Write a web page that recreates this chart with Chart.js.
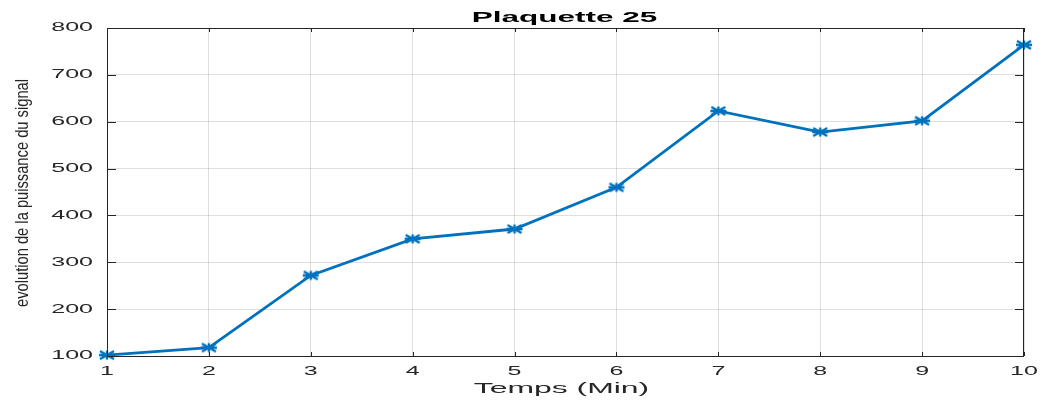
<!DOCTYPE html>
<html>
<head>
<meta charset="utf-8">
<script src="https://cdn.jsdelivr.net/npm/chart.js@4/dist/chart.umd.min.js"></script>
<style>
  html, body { margin: 0; padding: 0; background: #fff; }
  #wrap { width: 1043px; height: 403px; }
</style>
</head>
<body>
<div id="wrap"><canvas id="myChart" width="1043" height="403"></canvas></div>
<script>
// data
const temps = [1, 2, 3, 4, 5, 6, 7, 8, 9, 10];
const puissance = [102, 118, 272, 350, 371, 460, 623, 578, 602, 764];
const yTicks = [100, 200, 300, 400, 500, 600, 700, 800];
const xTicks = [1, 2, 3, 4, 5, 6, 7, 8, 9, 10];

const titleText = 'Plaquette 25';
const xTitle = 'Temps (Min)';
const yTitle = 'evolution de la puissance du signal';

const axisColor = '#262626';
const lineColor = '#0072BD';

let points = [];
for (let i = 0; i < temps.length; i++) {
    points.push({ x: temps[i], y: puissance[i] });
}

// asterisk marker, stretched sideways like the rest of the figure
const marker = document.createElement('canvas');
marker.width = 20;
marker.height = 12;
(function () {
    const c = marker.getContext('2d');
    c.strokeStyle = lineColor;
    c.lineWidth = 2.4;
    c.beginPath();
    c.moveTo(2, 6); c.lineTo(18, 6);
    c.moveTo(3, 2); c.lineTo(17, 10);
    c.moveTo(3, 10); c.lineTo(17, 2);
    c.moveTo(10, 1.5); c.lineTo(10, 10.5);
    c.stroke();
})();

// stretched text, like the exported matlab figure
function wideText(ctx, text, x, y, font, sx, align) {
    ctx.save();
    ctx.font = font;
    ctx.textBaseline = 'middle';
    ctx.textAlign = align;
    ctx.translate(x, y);
    ctx.scale(sx, 1);
    ctx.fillText(text, 0, 0);
    ctx.restore();
}

const matlabBox = {
    id: 'matlabBox',
    afterDraw(chart) {
        const ctx = chart.ctx;
        const area = chart.chartArea;
        const xs = chart.scales.x;
        const ys = chart.scales.y;
        ctx.save();
        ctx.strokeStyle = axisColor;
        ctx.lineWidth = 1;
        ctx.strokeRect(area.left + 0.5, area.top + 0.5, area.right - area.left - 1, area.bottom - area.top);

        // inward ticks
        ctx.beginPath();
        xs.ticks.forEach(t => {
            const px = Math.round(xs.getPixelForValue(t.value)) + 0.5;
            ctx.moveTo(px, area.bottom); ctx.lineTo(px, area.bottom - 4);
            ctx.moveTo(px, area.top); ctx.lineTo(px, area.top + 4);
        });
        ys.ticks.forEach(t => {
            const py = Math.round(ys.getPixelForValue(t.value)) + 0.5;
            ctx.moveTo(area.left, py); ctx.lineTo(area.left + 9, py);
            ctx.moveTo(area.right, py); ctx.lineTo(area.right - 9, py);
        });
        ctx.stroke();

        ctx.fillStyle = axisColor;
        xs.ticks.forEach(t => {
            wideText(ctx, String(t.value), xs.getPixelForValue(t.value), 372,
                '12.5px "Liberation Sans", Arial, sans-serif', 2.0, 'center');
        });
        ys.ticks.forEach(t => {
            wideText(ctx, String(t.value), area.left - 14, ys.getPixelForValue(t.value),
                '12.5px "Liberation Sans", Arial, sans-serif', 2.0, 'right');
        });

        const cx = (area.left + area.right) / 2;
        ctx.fillStyle = '#000';
        wideText(ctx, titleText, cx - 1, 17.5, 'bold 15px "Liberation Sans", Arial, sans-serif', 2.1, 'center');
        ctx.fillStyle = axisColor;
        wideText(ctx, xTitle, cx - 4, 389, '14.5px "Liberation Sans", Arial, sans-serif', 2.2, 'center');

        // y label, rotated and squeezed along its length
        ctx.save();
        ctx.translate(23, (area.top + area.bottom) / 2 + 1);
        ctx.rotate(-Math.PI / 2);
        ctx.font = '18px "Liberation Sans", Arial, sans-serif';
        const w = ctx.measureText(yTitle).width;
        ctx.scale(228 / w, 1);
        ctx.textAlign = 'center';
        ctx.textBaseline = 'middle';
        ctx.fillText(yTitle, 0, 0);
        ctx.restore();
        ctx.restore();
    }
};

const data = {
    datasets: [{
        label: titleText,
        data: points,
        borderColor: lineColor,
        backgroundColor: lineColor,
        borderWidth: 2.8,
        pointStyle: marker,
        pointRadius: 6,
        pointHoverRadius: 6,
        tension: 0,
        clip: false,
    }]
};

const config = {
    type: 'line',
    data: data,
    plugins: [matlabBox],
    options: {
        responsive: false,
        animation: false,
        layout: { padding: { top: 28, right: 19, left: 0, bottom: 0 } },
        plugins: {
            legend: { display: false },
            title: { display: false },
            tooltip: { enabled: false }
        },
        scales: {
            x: {
                type: 'linear',
                min: 1,
                max: 10,
                afterBuildTicks: (scale) => { scale.ticks = xTicks.map(v => ({ value: v })); },
                afterFit: (scale) => { scale.height = 47; },
                ticks: { display: false },
                grid: { color: 'rgba(38,38,38,0.15)', drawTicks: false },
                border: { display: false }
            },
            y: {
                type: 'linear',
                min: 100,
                max: 800,
                afterBuildTicks: (scale) => { scale.ticks = yTicks.map(v => ({ value: v })); },
                afterFit: (scale) => { scale.width = 107; },
                ticks: { display: false },
                grid: { color: 'rgba(38,38,38,0.15)', drawTicks: false },
                border: { display: false }
            }
        }
    }
};

let myChart = new Chart(document.getElementById('myChart'), config);
</script>
</body>
</html>
